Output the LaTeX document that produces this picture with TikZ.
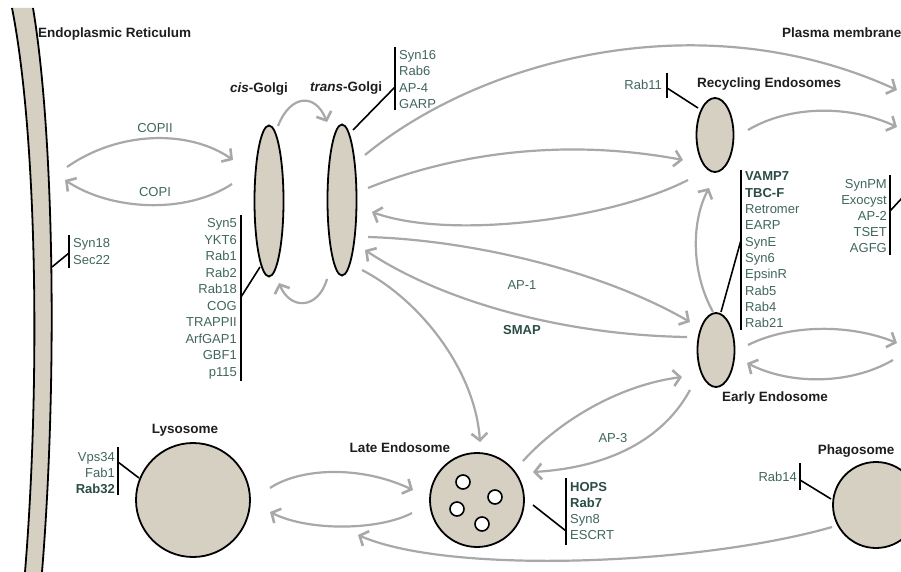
\documentclass[tikz,border=0pt]{standalone}
\usepackage{fontspec}
\setmainfont{Liberation Sans}
\usetikzlibrary{arrows.meta,shapes.geometric}
\definecolor{orgfill}{HTML}{D6D0C3}
\definecolor{arrgray}{HTML}{A8A8A8}
\definecolor{labteal}{HTML}{3F665E}
\definecolor{labdark}{HTML}{2B4C46}
\definecolor{headc}{HTML}{1E1E1E}
\tikzset{
 organelle/.style={draw=black, line width=1.8pt, fill=orgfill, inner sep=0pt},
 flow/.style={draw=arrgray, line width=2.2pt, -{Straight Barb[length=7pt,width=16pt,line width=2.6pt]}},
 tether/.style={draw=black, line width=1.6pt},
 listbar/.style={draw=black, line width=2pt},
 lab/.style={text=labteal, font=\fontsize{13}{15}\selectfont, inner sep=0pt},
 labb/.style={text=labdark, font=\fontsize{13}{15}\selectfont\bfseries, inner sep=0pt},
 head/.style={text=headc, font=\fontsize{13.5}{15}\selectfont\bfseries, inner sep=0pt},
}
\begin{document}
\begin{tikzpicture}[x=1pt,y=-1pt]
\useasboundingbox (0,0) rectangle (901,572);

% ---------- Endoplasmic reticulum band ----------
\fill[orgfill] (12,8) .. controls (38,140) and (40,390) .. (25,572) -- (42,572)
   .. controls (57,390) and (55,140) .. (33,8) -- cycle;
\draw[black, line width=1.8pt] (12,8) .. controls (38,140) and (40,390) .. (25,572);
\draw[black, line width=1.8pt] (33,8) .. controls (55,140) and (57,390) .. (42,572);
\coordinate (erR) at (52,267);
\coordinate (erC1) at (67,167);
\coordinate (erC2) at (65,180);

% ---------- organelles ----------
\node[organelle, ellipse, minimum width=29pt, minimum height=151pt] (cis) at (269,201) {};
\node[organelle, ellipse, minimum width=29pt, minimum height=151pt] (trans) at (342,200) {};
\node[organelle, ellipse, minimum width=37pt, minimum height=74pt] (re) at (715,135) {};
\node[organelle, ellipse, minimum width=37pt, minimum height=74pt] (ee) at (716,350) {};
\node[organelle, circle, minimum size=94pt] (le) at (477,500) {};
\node[organelle, circle, minimum size=114pt] (lyso) at (193,500) {};
\node[organelle, circle, minimum size=86pt] (phago) at (876,505) {};
\foreach \px/\py [count=\k] in {463/482,495/497,457/509,482/524}
  \node[draw=black, line width=1.6pt, fill=white, circle, minimum size=14pt, inner sep=0pt] (ves\k) at (\px,\py) {};

% ---------- headings ----------
\node[head, anchor=base west] (tER) at (38,37.5) {Endoplasmic Reticulum};
\node[head, anchor=base west] (tPM) at (782,37.5) {Plasma membrane};
\node[head, anchor=base west] (tcis) at (230,92.5) {\textit{cis}-Golgi};
\node[head, anchor=base west] (ttrans) at (310,91.5) {\textit{trans}-Golgi};
\node[head, anchor=base west] (tre) at (697,87.5) {Recycling Endosomes};
\node[head, anchor=base west] (tee) at (722,401.5) {Early Endosome};
\node[head, anchor=base] (tlyso) at (185,433.5) {Lysosome};
\node[head, anchor=base] (tle) at (400,452.5) {Late Endosome};
\node[head, anchor=base] (tphago) at (856,454.5) {Phagosome};

% ---------- flow labels ----------
\node[lab, anchor=base] (lCOPII) at (155,132.5) {COPII};
\node[lab, anchor=base] (lCOPI) at (155,196.5) {COPI};
\node[lab, anchor=base] (lAP1) at (522,289.5) {AP-1};
\node[labb, anchor=base] (lSMAP) at (522,334.5) {SMAP};
\node[lab, anchor=base] (lAP3) at (613,442.5) {AP-3};

% ---------- protein lists ----------
% ER
\foreach \t [count=\i] in {Syn18,Sec22}
  \node[lab, anchor=base west] (er\i) at (73,{247.5+16.5*(\i-1)}) {\t};
\draw[listbar] (69,235) -- (69,268);
\coordinate (erbM) at (69,253);
\draw[tether] (erR) -- (erbM);
% cis-Golgi
\foreach \t [count=\i] in {Syn5,YKT6,Rab1,Rab2,Rab18,COG,TRAPPII,ArfGAP1,GBF1,p115}
  \node[lab, anchor=base east] (cl\i) at (237,{227.5+16.55*(\i-1)}) {\t};
\draw[listbar] (241,215) -- (241,381);
\coordinate (cisbM) at (241,297);
\coordinate (cisT) at (260,267);
\draw[tether] (cisT) -- (cisbM);
% trans-Golgi
\foreach \t [count=\i] in {Syn16,Rab6,AP-4,GARP}
  \node[lab, anchor=base west] (tl\i) at (399,{59.5+16.3*(\i-1)}) {\t};
\draw[listbar] (395,47) -- (395,110);
\coordinate (transbM) at (395,87);
\coordinate (transT) at (353,130);
\draw[tether] (transT) -- (transbM);
% recycling endosome
\node[lab, anchor=base east] (rl1) at (662,89.5) {Rab11};
\draw[listbar] (667,73) -- (667,98);
\coordinate (rebM) at (667,88);
\coordinate (reT) at (698,108);
\draw[tether] (rebM) -- (reT);
% early endosome
\node[labb, anchor=base west] (el1) at (745,181) {VAMP7};
\node[labb, anchor=base west] (el2) at (745,197.3) {TBC-F};
\foreach \t [count=\i from 3] in {Retromer,EARP,SynE,Syn6,EpsinR,Rab5,Rab4,Rab21}
  \node[lab, anchor=base west] (el\i) at (745,{181+16.3*(\i-1)}) {\t};
\draw[listbar] (741,170) -- (741,330);
\coordinate (eebM) at (741,240);
\coordinate (eeT) at (721,312);
\draw[tether] (eeT) -- (eebM);
% plasma membrane
\foreach \t [count=\i] in {SynPM,Exocyst,AP-2,TSET,AGFG}
  \node[lab, anchor=base east] (pl\i) at (887,{188.5+16*(\i-1)}) {\t};
\draw[listbar] (890,175) -- (890,255);
\coordinate (pmbM) at (890,211);
\coordinate (pmT) at (902,198);
\draw[tether] (pmbM) -- (pmT);
% late endosome
\node[labb, anchor=base west] (ll1) at (570,491.5) {HOPS};
\node[labb, anchor=base west] (ll2) at (570,507.5) {Rab7};
\node[lab, anchor=base west] (ll3) at (570,523.5) {Syn8};
\node[lab, anchor=base west] (ll4) at (570,539.5) {ESCRT};
\draw[listbar] (566,478) -- (566,545);
\coordinate (lebM) at (566,531);
\coordinate (leT) at (533,505);
\draw[tether] (leT) -- (lebM);
% lysosome
\node[lab, anchor=base east] (yl1) at (115,461.5) {Vps34};
\node[lab, anchor=base east] (yl2) at (115,477.5) {Fab1};
\node[labb, anchor=base east] (yl3) at (115,493.5) {Rab32};
\draw[listbar] (118,447) -- (118,495);
\coordinate (lysobM) at (118,462);
\coordinate (lysoT) at (139,478);
\draw[tether] (lysobM) -- (lysoT);
% phagosome
\node[lab, anchor=base east] (pg1) at (797,481.5) {Rab14};
\draw[listbar] (800,463) -- (800,490);
\coordinate (phbM) at (800,480);
\coordinate (phT) at (831,499);
\draw[tether] (phbM) -- (phT);

% ---------- trafficking arrows ----------
\coordinate (cisL1) at (233,160);
\coordinate (cisL2) at (232,184);
\draw[flow] (erC1) .. controls (120,130) and (190,130) .. (cisL1);
\draw[flow] (cisL2) .. controls (185,215) and (110,210) .. (erC2);

\coordinate (cisTop) at (278,126);
\coordinate (transTop) at (327,122);
\coordinate (transBot) at (327,279);
\coordinate (cisBot) at (279,283);
\draw[flow] (cisTop) .. controls (290,95) and (315,92) .. (transTop);
\draw[flow] (transBot) .. controls (318,310) and (290,310) .. (cisBot);

\coordinate (tr1) at (365,155);
\coordinate (tr2) at (368,188);
\coordinate (tr3) at (372,212);
\coordinate (tr4) at (368,237);
\coordinate (tr5) at (365,250);
\coordinate (tr6) at (362,270);
\coordinate (pm1) at (897,90);
\coordinate (pm2) at (897,127);
\coordinate (pm3) at (897,343);
\coordinate (pm4) at (893,360);
\coordinate (reIn) at (683,160);
\coordinate (reOut) at (688,180);
\coordinate (reR) at (748,130);
\coordinate (reB) at (709,188);
\coordinate (eeIn) at (690,322);
\coordinate (eeOut) at (687,337);
\coordinate (eeTop) at (713,312);
\coordinate (eeR1) at (748,345);
\coordinate (eeR2) at (747,363);
\coordinate (eeIn2) at (682,377);
\coordinate (eeOut2) at (690,390);
\coordinate (leTop) at (480,442);
\coordinate (leOut) at (523,461);
\coordinate (leIn) at (533,472);
\coordinate (leL1) at (413,490);
\coordinate (leL2) at (412,513);
\coordinate (lyR1) at (270,488);
\coordinate (lyR2) at (270,512);
\coordinate (phL) at (832,527);
\coordinate (lyEnd) at (358,535);

\draw[flow] (tr1) .. controls (480,60) and (700,0) .. (pm1);
\draw[flow] (tr2) .. controls (450,155) and (560,137) .. (reIn);
\draw[flow] (reOut) .. controls (610,220) and (450,240) .. (tr3);
\draw[flow] (tr4) .. controls (470,240) and (600,270) .. (eeIn);
\draw[flow] (eeOut) .. controls (560,335) and (440,300) .. (tr5);
\draw[flow] (tr6) .. controls (420,300) and (475,370) .. (leTop);
\draw[flow] (eeTop) .. controls (690,270) and (692,220) .. (reB);
\draw[flow] (reR) .. controls (790,105) and (850,105) .. (pm2);
\draw[flow] (eeR1) .. controls (790,324) and (850,324) .. (pm3);
\draw[flow] (pm4) .. controls (850,385) and (790,385) .. (eeR2);
\draw[flow] (leOut) .. controls (560,420) and (620,385) .. (eeIn2);
\draw[flow] (eeOut2) .. controls (660,445) and (600,468) .. (leIn);
\draw[flow] (lyR1) .. controls (300,468) and (360,465) .. (leL1);
\draw[flow] (leL2) .. controls (380,530) and (310,532) .. (lyR2);
\draw[flow] (phL) .. controls (700,565) and (450,575) .. (lyEnd);
\end{tikzpicture}
\end{document}
